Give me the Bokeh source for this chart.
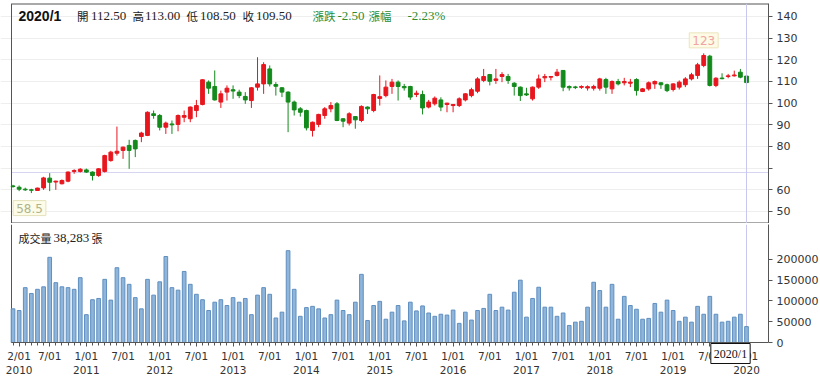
from bokeh.plotting import figure
from bokeh.layouts import column
from bokeh.models import Range1d, FixedTicker, Span, Label, ColumnDataSource, NumeralTickFormatter
from bokeh.embed import file_html
from bokeh.resources import INLINE

# ---------------- data ----------------
months = [f"{2010 + i // 12}/{i % 12 + 1}" for i in range(121)]

opens = [61.8, 61.2, 60.3, 60.0, 59.7, 60.9, 65.4, 63.6, 62.8, 64.0, 68.5, 68.5,
         69.2, 68.2, 66.6, 68.5, 73.5, 76.9, 78.2, 80.5, 82.8, 84.6, 85.1, 95.1,
         94.3, 88.9, 90.4, 90.2, 93.5, 92.8, 96.6, 99.4, 109.7, 107.7, 100.5, 105.1,
         106.2, 105.1, 103.1, 101.2, 107.4, 108.9, 115.8, 108.6, 107.1, 105.1, 100.5, 97.4,
         96.6, 87.4, 90.2, 94.3, 97.4, 99.7, 92.8, 90.8, 93.8, 92.0, 98.2, 96.6,
         102.2, 103.5, 107.7, 109.7, 107.7, 107.7, 104.0, 104.0, 98.2, 99.7, 101.5, 99.4,
         98.9, 98.9, 101.5, 103.5, 105.5, 110.5, 113.2, 110.5, 112.3, 112.3, 109.2, 107.4,
         104.3, 102.0, 107.4, 111.7, 112.0, 112.8, 115.1, 107.7, 107.5, 107.3, 107.0, 106.9,
         106.9, 110.9, 106.6, 110.0, 109.4, 109.2, 110.9, 105.4, 106.6, 108.9, 109.4, 108.5,
         106.3, 107.4, 108.5, 111.2, 112.8, 117.4, 121.7, 108.2, 111.6, 112.3, 112.6, 114.3,
         112.5]
highs = [62.3, 62.0, 61.0, 60.5, 61.0, 66.0, 67.7, 64.2, 64.8, 68.5, 69.5, 70.0,
         69.8, 68.5, 70.0, 76.2, 78.0, 89.2, 80.0, 83.1, 83.2, 86.8, 96.2, 96.6,
         95.0, 91.5, 92.0, 94.8, 96.6, 98.5, 101.5, 111.0, 110.5, 115.1, 105.8, 108.2,
         108.2, 106.2, 105.1, 107.4, 121.2, 118.9, 117.4, 109.7, 107.4, 105.5, 101.2, 98.2,
         97.0, 91.5, 95.1, 98.2, 100.5, 100.5, 93.0, 95.8, 94.0, 99.0, 98.5, 104.3,
         112.8, 110.5, 111.2, 110.5, 108.9, 108.0, 105.8, 105.8, 101.5, 103.1, 102.7, 100.2,
         99.6, 102.7, 104.6, 107.1, 112.0, 115.8, 113.5, 115.8, 114.3, 113.5, 109.7, 107.7,
         107.1, 107.7, 113.2, 113.5, 112.5, 115.8, 115.3, 108.2, 108.0, 108.2, 108.2, 108.5,
         111.7, 111.7, 110.5, 111.2, 111.7, 111.2, 111.5, 107.0, 110.0, 110.5, 109.6, 109.0,
         109.2, 110.5, 112.0, 114.0, 118.6, 123.0, 122.3, 112.0, 113.8, 113.5, 115.0, 115.8,
         113.0]
lows = [61.0, 59.4, 59.5, 58.5, 59.5, 60.0, 59.4, 60.0, 62.5, 63.5, 67.4, 68.0,
        67.8, 64.3, 66.0, 68.0, 73.0, 75.8, 74.3, 69.7, 75.1, 82.0, 84.8, 92.8,
        87.4, 85.8, 85.8, 87.0, 91.2, 91.2, 93.5, 99.0, 104.3, 101.2, 97.8, 101.2,
        102.0, 102.3, 99.7, 97.8, 105.8, 104.3, 107.7, 103.5, 102.8, 86.6, 94.3, 93.8,
        87.4, 84.6, 88.9, 92.8, 95.8, 91.7, 88.9, 89.7, 88.2, 91.2, 95.0, 95.8,
        98.9, 102.7, 104.3, 101.2, 105.8, 101.5, 102.8, 94.8, 97.6, 98.9, 96.3, 95.8,
        95.8, 98.2, 100.8, 102.7, 104.6, 109.7, 108.2, 108.9, 109.7, 108.9, 103.5, 101.0,
        103.3, 101.2, 106.6, 109.7, 110.5, 112.3, 105.5, 105.8, 106.5, 106.6, 105.8, 105.8,
        105.8, 104.3, 104.3, 108.2, 108.2, 107.4, 103.5, 105.1, 105.8, 106.6, 106.6, 105.1,
        105.4, 106.3, 107.4, 110.5, 111.2, 116.6, 107.7, 107.4, 111.0, 111.5, 112.3, 111.5,
        108.5]
closes = [61.5, 60.3, 60.0, 59.8, 60.8, 65.5, 63.5, 64.0, 64.3, 68.2, 68.9, 69.5,
          68.2, 66.6, 69.7, 75.8, 77.4, 77.8, 79.7, 78.2, 78.9, 86.2, 95.8, 94.3,
          88.9, 90.8, 90.0, 94.3, 94.3, 98.2, 98.9, 110.8, 106.9, 101.5, 104.3, 106.9,
          105.6, 103.5, 101.5, 107.1, 108.9, 117.8, 108.9, 107.8, 105.1, 100.5, 96.9, 95.8,
          88.6, 91.2, 94.8, 97.4, 98.9, 92.0, 91.7, 95.1, 92.3, 98.5, 97.4, 104.0,
          103.0, 107.4, 109.7, 107.7, 107.1, 102.8, 104.6, 97.8, 100.5, 102.3, 98.2, 100.0,
          99.4, 102.0, 104.3, 106.2, 111.2, 112.3, 110.1, 111.2, 113.2, 110.5, 107.7, 103.5,
          103.8, 107.4, 111.2, 112.3, 112.3, 114.3, 107.4, 107.1, 107.2, 107.7, 107.6, 107.7,
          111.2, 107.4, 110.0, 108.9, 110.0, 109.7, 105.8, 106.6, 109.4, 110.0, 108.5, 105.8,
          108.9, 109.7, 111.2, 113.1, 117.7, 122.0, 108.2, 111.5, 111.3, 112.6, 113.0, 112.0,
          109.5]
volume = [81000, 77000, 132000, 118000, 128000, 134000, 205000, 144000, 134000, 132000, 128000, 156000,
          67000, 103000, 106000, 152000, 102000, 180000, 156000, 140000, 108000, 81000, 152000, 114000,
          146000, 207000, 132000, 126000, 171000, 140000, 116000, 103000, 77000, 97000, 103000, 89000,
          108000, 97000, 106000, 67000, 114000, 132000, 116000, 59000, 73000, 221000, 128000, 63000,
          84000, 87000, 81000, 59000, 67000, 102000, 77000, 67000, 97000, 164000, 53000, 89000,
          99000, 56000, 73000, 89000, 52000, 97000, 76000, 88000, 71000, 63000, 68000, 66000,
          78000, 46000, 73000, 54000, 77000, 82000, 116000, 77000, 85000, 78000, 121000, 150000,
          61000, 106000, 133000, 85000, 85000, 63000, 71000, 41000, 49000, 51000, 85000, 145000,
          125000, 85000, 140000, 56000, 111000, 89000, 80000, 56000, 58000, 94000, 73000, 102000,
          77000, 51000, 61000, 49000, 87000, 68000, 111000, 68000, 49000, 51000, 61000, 68000,
          38283]

price_ticks = [50, 60, 70, 80, 90, 100, 110, 120, 130, 140]
volume_ticks = [0, 50000, 100000, 150000, 200000]

# ---------------- geometry helpers ----------------
X0, X1 = -0.25, 123.6           # visible month span of the bordered chart area
FW = 757
K = (X1 - X0) / FW               # months per pixel
XL = X0 - 11 * K                 # both frames start at the page's left edge
P_TOP, P_BOT = 146.0, 44.46
P_FH = 220
V_TOP = 284000
V_PER_PX = V_TOP / 118           # volume units per pixel
V_FH = 153                       # frame reaches page bottom, axis fixed at 0
V_BOT = -V_PER_PX * 35


def dx(px):
    return X0 + (px - 11) * K


def dy1(py):
    return P_TOP - (py - 3) * (P_TOP - P_BOT) / P_FH


def dy2(py):
    return (342 - py) * V_PER_PX


RED = "#e8161e"
GREEN = "#138a1b"
AXIS = "#555555"
CROSS = "#c8c8ee"
TICK_FONT = "DejaVu Sans"

x = list(range(len(months)))
last = len(months) - 1
colors = [RED if c > o else GREEN for o, c in zip(opens, closes)]
src = ColumnDataSource(dict(
    x=x, month=months, o=opens, h=highs, l=lows, c=closes,
    top=[max(o, c) for o, c in zip(opens, closes)],
    bottom=[min(o, c) for o, c in zip(opens, closes)],
    color=colors, vol=volume))

# ---------------- price panel ----------------
p1 = figure(frame_width=FW + 11, frame_height=P_FH, x_range=Range1d(XL, X1), y_range=Range1d(P_BOT, P_TOP),
            output_backend="svg", toolbar_location=None, y_axis_location="right", x_axis_location=None,
            min_border_left=0, min_border_right=52, min_border_top=3, min_border_bottom=0)
p1.outline_line_color = None
p1.xgrid.visible = False
p1.ygrid.grid_line_color = "#eeeeee"
p1.ygrid.bounds = (X0, X1)
ya = p1.yaxis[0]
ya.ticker = FixedTicker(ticks=price_ticks)
ya.major_label_overrides = {70: ""}
ya.axis_line_color = AXIS
ya.major_tick_line_color = AXIS
ya.major_tick_out = 4
ya.major_tick_in = 0
ya.minor_tick_line_color = None
ya.major_label_standoff = 4
ya.major_label_text_font = TICK_FONT
ya.major_label_text_font_size = "11px"
ya.major_label_text_color = "#333333"

# chart border (left / top / bottom) and cross-hair
p1.add_layout(Span(location=X0, dimension="height", line_color=AXIS, line_width=1))
p1.segment(x0=[X0], y0=[P_TOP], x1=[X1], y1=[P_TOP], line_color=AXIS, line_width=2)
p1.segment(x0=[X0], y0=[P_BOT], x1=[X1], y1=[P_BOT], line_color=AXIS, line_width=2)
p1.segment(x0=[X0], y0=[68], x1=[X1], y1=[68], line_color="#d6d6f2", line_width=1)
p1.add_layout(Span(location=last, dimension="height", line_color=CROSS, line_width=1))

p1.segment(x0="x", y0="l", x1="x", y1="h", color="color", line_width=1, source=src)
p1.vbar(x="x", width=0.62, top="top", bottom="bottom", fill_color="color", line_color="color", source=src)

# header
chg = closes[last] - closes[last - 1]
pct = chg / closes[last - 1] * 100
yh = dy1(15)
header = [
    (18, months[last], "#111111", "Liberation Sans", "bold", "14px"),
    (76.5, "開", "#222222", "Noto Sans CJK TC", "normal", "11.5px"),
    (90.5, f"{opens[last]:.2f}", "#222222", "Liberation Serif", "normal", "13px"),
    (132, "高", "#222222", "Noto Sans CJK TC", "normal", "11.5px"),
    (144.5, f"{highs[last]:.2f}", "#222222", "Liberation Serif", "normal", "13px"),
    (186, "低", "#222222", "Noto Sans CJK TC", "normal", "11.5px"),
    (199.5, f"{lows[last]:.2f}", "#222222", "Liberation Serif", "normal", "13px"),
    (242, "收", "#222222", "Noto Sans CJK TC", "normal", "11.5px"),
    (255.5, f"{closes[last]:.2f}", "#222222", "Liberation Serif", "normal", "13px"),
    (312, "漲跌", "#2e8b2e", "Noto Sans CJK TC", "normal", "11.5px"),
    (337, f"{chg:.2f}", "#2e8b2e", "Liberation Serif", "normal", "13px"),
    (368, "漲幅", "#2e8b2e", "Noto Sans CJK TC", "normal", "11.5px"),
    (407, f"{pct:.2f}%", "#2e8b2e", "Liberation Serif", "normal", "13px"),
]
for px, t, col, font, style, size in header:
    p1.add_layout(Label(x=dx(px), y=yh, text=t, text_color=col, text_font=font,
                        text_font_style=style, text_font_size=size, text_baseline="middle", text_align="left"))

# max / min markers
imax = max(x, key=lambda i: highs[i])
imin = min(x, key=lambda i: lows[i])
p1.add_layout(Label(x=imax, y=highs[imax], y_offset=13, text=f"{highs[imax]:g}", text_color="#f0a4a4",
                    text_font="DejaVu Sans", text_font_size="12px", text_align="center",
                    text_baseline="middle", background_fill_color="#fdfbe6", border_line_color="#ece4bc",
                    padding=3))
p1.add_layout(Label(x=imin - 0.3, y=lows[imin], y_offset=-15, text=f"{lows[imin]:g}", text_color="#b0b48c",
                    text_font="DejaVu Sans", text_font_size="12px", text_align="center",
                    text_baseline="middle", background_fill_color="#fcfce8", border_line_color="#e4e2bc",
                    padding=3))

# ---------------- volume panel ----------------
p2 = figure(frame_width=FW + 11, frame_height=V_FH, x_range=p1.x_range, y_range=Range1d(V_BOT, V_TOP),
            output_backend="svg", toolbar_location=None, y_axis_location="right",
            min_border_left=0, min_border_right=52, min_border_top=1, min_border_bottom=0)
p2.outline_line_color = None
p2.grid.visible = False
# left edge of the volume frame and the cross-hair at the latest month
p2.segment(x0=[X0], y0=[0], x1=[X0], y1=[V_TOP], line_color=AXIS, line_width=1)
p2.segment(x0=[last], y0=[0], x1=[last], y1=[V_TOP], line_color=CROSS, line_width=1)
p2.vbar(x="x", width=0.6, top="vol", bottom=0, fill_color="#8fb5da", line_color="#5f8fc0", source=src)

va = p2.yaxis[0]
va.ticker = FixedTicker(ticks=volume_ticks)
va.formatter = NumeralTickFormatter(format="0")
va.bounds = (0, V_TOP)
va.axis_line_color = AXIS
va.major_tick_line_color = AXIS
va.major_tick_out = 4
va.major_tick_in = 0
va.minor_tick_line_color = None
va.major_label_standoff = 4
va.major_label_text_font = TICK_FONT
va.major_label_text_font_size = "11px"
va.major_label_text_color = "#333333"

major = [1] + [i for i in x if i % 6 == 0 and i > 0]
overrides = {}
for i in major:
    yr, mo = 2010 + i // 12, i % 12 + 1
    if i == 1 or mo == 1:
        overrides[i] = f"{mo}/01\n{yr}"
    else:
        overrides[i] = f"{mo}/01"
xa = p2.xaxis[0]
xa.fixed_location = 0
xa.bounds = (X0, X1)
xa.ticker = FixedTicker(ticks=major, minor_ticks=x)
xa.major_label_overrides = overrides
xa.axis_line_color = AXIS
xa.major_tick_line_color = AXIS
xa.minor_tick_line_color = AXIS
xa.major_tick_out = 4
xa.major_tick_in = 0
xa.minor_tick_out = 3
xa.minor_tick_in = 0
xa.major_label_standoff = 3
xa.major_label_text_font = TICK_FONT
xa.major_label_text_font_size = "10.5px"
xa.major_label_text_color = "#333333"

yv = dy2(237)
p2.add_layout(Label(x=dx(18), y=yv, text="成交量", text_font="Noto Sans CJK TC", text_font_size="11px",
                    text_color="#222222", text_baseline="middle"))
p2.add_layout(Label(x=dx(53), y=yv, text=f"{volume[last]:,}", text_font="Liberation Serif",
                    text_font_size="13px", text_color="#222222", text_baseline="middle"))
p2.add_layout(Label(x=dx(91), y=yv, text="張", text_font="Noto Sans CJK TC", text_font_size="11px",
                    text_color="#222222", text_baseline="middle"))

p2.add_layout(Label(x=last, y=0, x_offset=-16, y_offset=-11, text=months[last], text_font="Liberation Serif",
                    text_font_size="12px", text_color="#111111", text_align="center", text_baseline="middle",
                    background_fill_color="white", border_line_color="#111111", padding=3, level="overlay"))

layout = column(p1, p2, spacing=0)
open("out.html", "w").write(file_html(layout, INLINE))
